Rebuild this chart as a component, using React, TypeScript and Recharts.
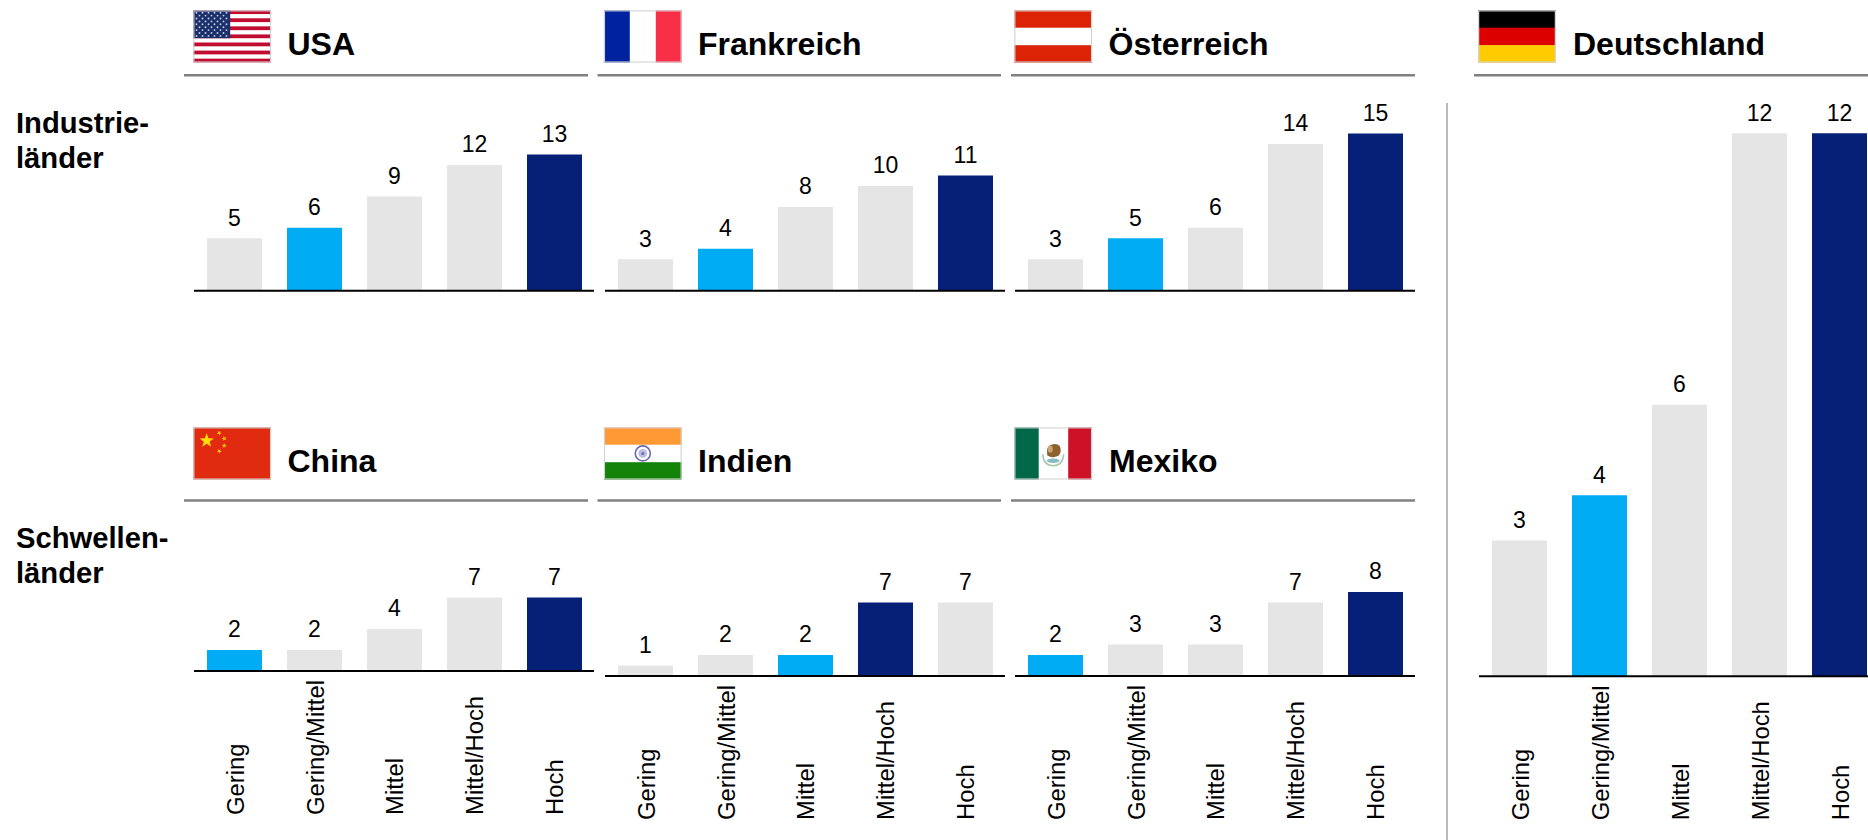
import React from 'react';
import { BarChart, Bar, XAxis, YAxis, Cell } from 'recharts';

// Readiness levels shown on every category axis
const categories = ['Gering', 'Gering/Mittel', 'Mittel', 'Mittel/Hoch', 'Hoch'];

// Values per country
const usaValues = [5, 6, 9, 12, 13];
const frankreichValues = [3, 4, 8, 10, 11];
const oesterreichValues = [3, 5, 6, 14, 15];
const chinaValues = [2, 2, 4, 7, 7];
const indienValues = [1, 2, 2, 7, 7];
const mexikoValues = [2, 3, 3, 7, 8];
const deutschlandValues = [3, 4, 6, 12, 12];

// Highlighted category per country, in reading order of the panels
const countryNames = ['USA', 'Frankreich', 'Österreich', 'China', 'Indien', 'Mexiko', 'Deutschland'];
const lightPicks = [1, 1, 1, 0, 2, 0, 1];
const darkPicks = [4, 4, 4, 4, 3, 4, 4];

const GREY = '#e5e5e5';
const LIGHT = '#00adf5';
const DARK = '#062078';
const RULE = '#808080';
const FONT = '"Liberation Sans", Arial, sans-serif';

const PLOT_W = 400;
const SMALL_UNIT = 10.49;
const LARGE_UNIT = 45.25;
const LABEL_AXIS_H = 150;

type Panel = {
  values: number[];
  left: number;
  baseline: number;
  unit: number;
  max: number;
  showTicks: boolean;
};

const panels: Panel[] = [
  { values: usaValues, left: 193.5, baseline: 290.7, unit: SMALL_UNIT, max: 20, showTicks: false },
  { values: frankreichValues, left: 604.6, baseline: 290.7, unit: SMALL_UNIT, max: 20, showTicks: false },
  { values: oesterreichValues, left: 1014.5, baseline: 290.7, unit: SMALL_UNIT, max: 20, showTicks: false },
  { values: chinaValues, left: 193.5, baseline: 671.2, unit: SMALL_UNIT, max: 12, showTicks: true },
  { values: indienValues, left: 604.6, baseline: 676.3, unit: SMALL_UNIT, max: 12, showTicks: true },
  { values: mexikoValues, left: 1014.5, baseline: 676.3, unit: SMALL_UNIT, max: 12, showTicks: true },
  { values: deutschlandValues, left: 1478.5, baseline: 676.3, unit: LARGE_UNIT, max: 13, showTicks: true },
];

function starPoints(cx: number, cy: number, r: number, rot = 0) {
  const pts: string[] = [];
  for (let i = 0; i < 10; i++) {
    const rad = i % 2 === 0 ? r : r * 0.4;
    const a = -Math.PI / 2 + rot + (i * Math.PI) / 5;
    pts.push(`${cx + rad * Math.cos(a)},${cy + rad * Math.sin(a)}`);
  }
  return pts.join(' ');
}

function FlagFrame({ x, y, children }: { x: number; y: number; children: React.ReactNode }) {
  return (
    <svg x={x} y={y} width={78} height={52.5} viewBox="0 0 78 52.5">
      {children}
      <rect x={0.6} y={0.6} width={76.8} height={51.3} fill="none" stroke="#d3d3d3" strokeWidth={1.3} />
    </svg>
  );
}

function FlagUSA() {
  const stripeH = 52.5 / 13;
  const stripes = Array.from({ length: 13 }, (_, i) => i);
  const rows = Array.from({ length: 9 }, (_, i) => i);
  return (
    <>
      {stripes.map((i) => (
        <rect key={i} x={0} y={i * stripeH} width={78} height={stripeH} fill={i % 2 === 0 ? '#c00c30' : '#ffffff'} />
      ))}
      <rect x={0} y={0} width={37} height={28} fill="#1b2f6b" />
      {rows.map((r) =>
        Array.from({ length: r % 2 === 0 ? 6 : 5 }, (_, c) => (
          <circle
            key={`${r}-${c}`}
            cx={(r % 2 === 0 ? 3.3 : 6.3) + c * 6}
            cy={2.5 + r * 2.9}
            r={0.95}
            fill="#c6cfe2"
          />
        ))
      )}
    </>
  );
}

function Bands({ colors, vertical }: { colors: string[]; vertical?: boolean }) {
  return (
    <>
      {colors.map((c, i) =>
        vertical ? (
          <rect key={i} x={(i * 78) / colors.length} y={0} width={78 / colors.length + 0.3} height={52.5} fill={c} />
        ) : (
          <rect key={i} x={0} y={(i * 52.5) / colors.length} width={78} height={52.5 / colors.length + 0.3} fill={c} />
        )
      )}
    </>
  );
}

function FlagChina() {
  return (
    <>
      <rect width={78} height={52.5} fill="#e02b10" />
      <polygon points={starPoints(13.5, 13.5, 7.5)} fill="#ffde00" />
      <polygon points={starPoints(26, 5.8, 2.6, 0.5)} fill="#ffc800" />
      <polygon points={starPoints(31, 11.3, 2.6, 0.9)} fill="#ffc800" />
      <polygon points={starPoints(31, 18.5, 2.6, 0)} fill="#ffc800" />
      <polygon points={starPoints(26, 24, 2.6, 0.5)} fill="#ffc800" />
    </>
  );
}

function FlagIndia() {
  return (
    <>
      <Bands colors={['#ff9933', '#ffffff', '#13830a']} />
      <circle cx={39} cy={26.2} r={7.5} fill="#ffffff" stroke="#6a6ab4" strokeWidth={1.6} />
      <circle cx={39} cy={26.2} r={4.4} fill="#bcbce0" />
      <circle cx={39} cy={26.2} r={1.5} fill="#6a6ab4" />
    </>
  );
}

function FlagMexico() {
  return (
    <>
      <rect width={78} height={52.5} fill="#ffffff" />
      <rect width={24.5} height={52.5} fill="#006847" />
      <rect x={54} width={24} height={52.5} fill="#ce1126" />
      <path d="M28.5 27 Q29.5 38.5 39 38.5 Q48.5 38.5 49.5 27" fill="none" stroke="#a8c8ac" strokeWidth={1.6} />
      <path d="M33 28 Q31.5 18 39 17 Q47 16 46.5 24 Q46 29 41 29.5 Q37 31 33 28 Z" fill="#8d6231" />
      <ellipse cx={36} cy={22} rx={2.6} ry={3.4} fill="#c9a56d" />
      <ellipse cx={39} cy={33.5} rx={6.5} ry={2.2} fill="#87bcc4" />
    </>
  );
}

const headerRules = [
  { x1: 184, x2: 588, y: 75.3 },
  { x1: 597.5, x2: 1001, y: 75.3 },
  { x1: 1011, x2: 1415, y: 75.3 },
  { x1: 1474, x2: 1868, y: 75.3 },
  { x1: 184, x2: 588, y: 500.5 },
  { x1: 597.5, x2: 1001, y: 500.5 },
  { x1: 1011, x2: 1415, y: 500.5 },
];

const headerText = [
  { x: 287.5, y: 55 },
  { x: 698, y: 55 },
  { x: 1108.5, y: 55 },
  { x: 287.5, y: 472 },
  { x: 698, y: 472 },
  { x: 1109, y: 472 },
  { x: 1573, y: 55 },
];

function Backdrop() {
  const bold = { fontFamily: FONT, fontWeight: 700, fill: '#000' } as const;
  return (
    <svg width={1868} height={840} style={{ position: 'absolute', left: 0, top: 0 }}>
      {headerRules.map((r, i) => (
        <line key={i} x1={r.x1} x2={r.x2} y1={r.y} y2={r.y} stroke={RULE} strokeWidth={2.6} />
      ))}
      <line x1={1447} x2={1447} y1={103} y2={840} stroke="#a3a3a3" strokeWidth={1.5} />

      <FlagFrame x={193.2} y={10.2}><FlagUSA /></FlagFrame>
      <FlagFrame x={603.8} y={10.2}><Bands vertical colors={['#0021a0', '#ffffff', '#f92e47']} /></FlagFrame>
      <FlagFrame x={1014.2} y={10.2}><Bands colors={['#dc2306', '#ffffff', '#dc2306']} /></FlagFrame>
      <FlagFrame x={1478} y={10.2}><Bands colors={['#000000', '#dd0000', '#ffcc00']} /></FlagFrame>
      <FlagFrame x={193.2} y={427.2}><FlagChina /></FlagFrame>
      <FlagFrame x={603.8} y={427.2}><FlagIndia /></FlagFrame>
      <FlagFrame x={1014.2} y={427.2}><FlagMexico /></FlagFrame>

      {countryNames.map((name, i) => (
        <text key={name} x={headerText[i].x} y={headerText[i].y} fontSize={32} {...bold}>
          {name}
        </text>
      ))}

      <text x={16} y={132.7} fontSize={29.2} {...bold}>Industrie-</text>
      <text x={16} y={168} fontSize={29.2} {...bold}>länder</text>
      <text x={16} y={547.5} fontSize={29.2} {...bold}>Schwellen-</text>
      <text x={16} y={582.5} fontSize={29.2} {...bold}>länder</text>
    </svg>
  );
}

function RotatedTick({ x, y, payload }: any) {
  const tx = x + 9.5;
  const ty = y + 144;
  return (
    <text
      x={tx}
      y={ty}
      transform={`rotate(-90 ${tx} ${ty})`}
      fontFamily={FONT}
      fontSize={23.8}
      fill="#000"
      textAnchor="start"
    >
      {payload.value}
    </text>
  );
}

function ValueLabel({ x, y, width, value }: any) {
  return (
    <text
      x={x + width / 2}
      y={y - 12.5}
      fontFamily={FONT}
      fontSize={23}
      fill="#000"
      textAnchor="middle"
    >
      {value}
    </text>
  );
}

function PanelChart({ panel, index }: { panel: Panel; index: number }) {
  const plotH = panel.max * panel.unit;
  const axisH = panel.showTicks ? LABEL_AXIS_H : 4;
  const rows = categories.map((category, i) => ({ category, value: panel.values[i] }));
  const fillFor = (i: number) =>
    i === lightPicks[index] ? LIGHT : i === darkPicks[index] ? DARK : GREY;
  return (
    <div style={{ position: 'absolute', left: panel.left, top: panel.baseline - plotH }}>
      <BarChart
        width={PLOT_W}
        height={plotH + axisH}
        data={rows}
        margin={{ top: 0, right: 0, bottom: 0, left: 0 }}
        barSize={55}
      >
        <XAxis
          dataKey="category"
          height={axisH}
          interval={0}
          tickLine={false}
          tickSize={0}
          tickMargin={0}
          axisLine={{ stroke: '#000', strokeWidth: 2 }}
          tick={panel.showTicks ? <RotatedTick /> : false}
        />
        <YAxis hide domain={[0, panel.max]} />
        <Bar dataKey="value" isAnimationActive={false} label={<ValueLabel />}>
          {rows.map((_, i) => (
            <Cell key={i} fill={fillFor(i)} />
          ))}
        </Bar>
      </BarChart>
    </div>
  );
}

export default function App() {
  return (
    <div
      style={{
        position: 'absolute',
        left: 0,
        top: 0,
        width: 1868,
        height: 840,
        overflow: 'hidden',
        background: '#fff',
      }}
    >
      <Backdrop />
      {panels.map((p, i) => (
        <PanelChart key={i} panel={p} index={i} />
      ))}
    </div>
  );
}
